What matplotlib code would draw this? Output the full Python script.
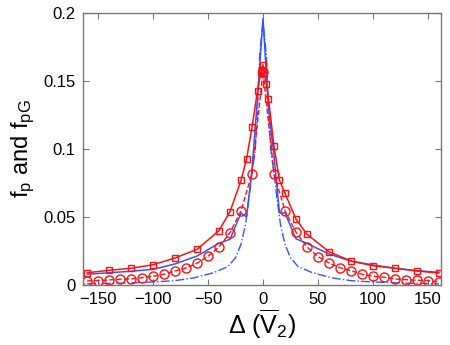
import matplotlib
matplotlib.use('Agg')
import matplotlib.pyplot as plt

plt.rcParams['font.family'] = ['Liberation Sans', 'DejaVu Sans']
plt.rcParams['mathtext.fontset'] = 'custom'
plt.rcParams['mathtext.rm'] = 'Liberation Sans'
plt.rcParams['mathtext.it'] = 'Liberation Sans'

# red squares, solid line
sq_x = [-160, -140, -120, -100, -80, -60, -40, -30, -20, -15, -10, -5, -2, -1, 0,
        1, 3, 5, 10, 15, 20, 30, 40, 60, 80, 100, 120, 140, 160]
sq_y = [0.0090, 0.0108, 0.0123, 0.0149, 0.0199, 0.0262, 0.0400, 0.0540, 0.0770, 0.0925,
        0.1160, 0.1430, 0.1560, 0.1580, 0.1620, 0.1560, 0.1480, 0.1370, 0.1020, 0.0770,
        0.0675, 0.0485, 0.0373, 0.0245, 0.0176, 0.0142, 0.0123, 0.0103, 0.0088]

# red circles, dashed line
ci_x = [-160, -150, -140, -130, -120, -110, -100, -90, -80, -70, -60, -50, -40, -30, -20,
        -10, 0, 10, 20, 30, 40, 50, 60, 70, 80, 90, 100, 110, 120, 130, 140, 150, 160]
ci_y = [0.0030, 0.0032, 0.0037, 0.0042, 0.0044, 0.0054, 0.0064, 0.0079, 0.0103, 0.0125,
        0.0160, 0.0211, 0.0280, 0.0385, 0.0546, 0.0820, 0.1570, 0.0820, 0.0546, 0.0388,
        0.0280, 0.0209, 0.0162, 0.0127, 0.0105, 0.0079, 0.0064, 0.0057, 0.0044, 0.0039,
        0.0035, 0.0032, 0.0024]

# blue solid
bs_x = [-160, -140, -120, -100, -80, -60, -40, -30, -20, -15, -10, -5, 0,
        5, 10, 15, 20, 30, 40, 60, 80, 100, 120, 140, 160]
bs_y = [0.0079, 0.0090, 0.0101, 0.0115, 0.0155, 0.0213, 0.0307, 0.0336, 0.0530, 0.0500,
        0.0850, 0.1380, 0.1960, 0.1300, 0.0950, 0.0530, 0.0530, 0.0340, 0.0306, 0.0228,
        0.0176, 0.0147, 0.0123, 0.0105, 0.0093]

# blue dash-dot
bd_x = [-160, -130, -100, -80, -63, -45, -32, -25, -20, -16, -13, -10, -7, -5, -3, 0,
        3, 5, 7, 10, 13, 16, 20, 25, 32, 45, 63, 80, 100, 130, 160]
bd_y = [0.0009, 0.0013, 0.0022, 0.0032, 0.0052, 0.0090, 0.0135, 0.0200, 0.0300, 0.0440,
        0.0620, 0.0820, 0.1000, 0.1300, 0.1700, 0.1930, 0.1700, 0.1300, 0.1000, 0.0820,
        0.0620, 0.0440, 0.0300, 0.0200, 0.0135, 0.0090, 0.0052, 0.0032, 0.0022, 0.0013,
        0.0009]

red = '#ff1010'
blue = '#3355ff'

fig = plt.figure(figsize=(4.5, 3.45), dpi=100)
ax = fig.add_axes([0.184, 0.174, 0.796, 0.788])

ax.plot(bd_x, bd_y, '-.', color=blue, lw=1.0)
ax.plot(bs_x, bs_y, '-', color=blue, lw=1.1)
ax.plot(ci_x, ci_y, '--', color=red, lw=1.0, marker='o', ms=6.5, mfc='none', mec=red, mew=1.0)
ax.plot(sq_x, sq_y, '-', color=red, lw=1.1, marker='s', ms=5, mfc='none', mec=red, mew=1.0)

ax.set_xlim(-164, 162)
ax.set_ylim(0, 0.2)
ax.set_xticks([-150, -100, -50, 0, 50, 100, 150])
ax.set_yticks([0, 0.05, 0.1, 0.15, 0.2])
ax.set_yticklabels(['0', '0.05', '0.1', '0.15', '0.2'])

for s in ax.spines.values():
    s.set_color('#777777')
    s.set_linewidth(1.0)
ax.tick_params(direction='in', top=True, right=True, length=4, color='#777777',
               labelsize=12, labelcolor='black', pad=5)

ax.set_xlabel(r'$\Delta\ (\overline{\mathrm{V}}_2)$', fontsize=18, labelpad=1)
ax.set_ylabel(r'$\mathrm{f_p}$ and $\mathrm{f_{pG}}$', fontsize=17, labelpad=5)

fig.savefig('out.png', dpi=100)
